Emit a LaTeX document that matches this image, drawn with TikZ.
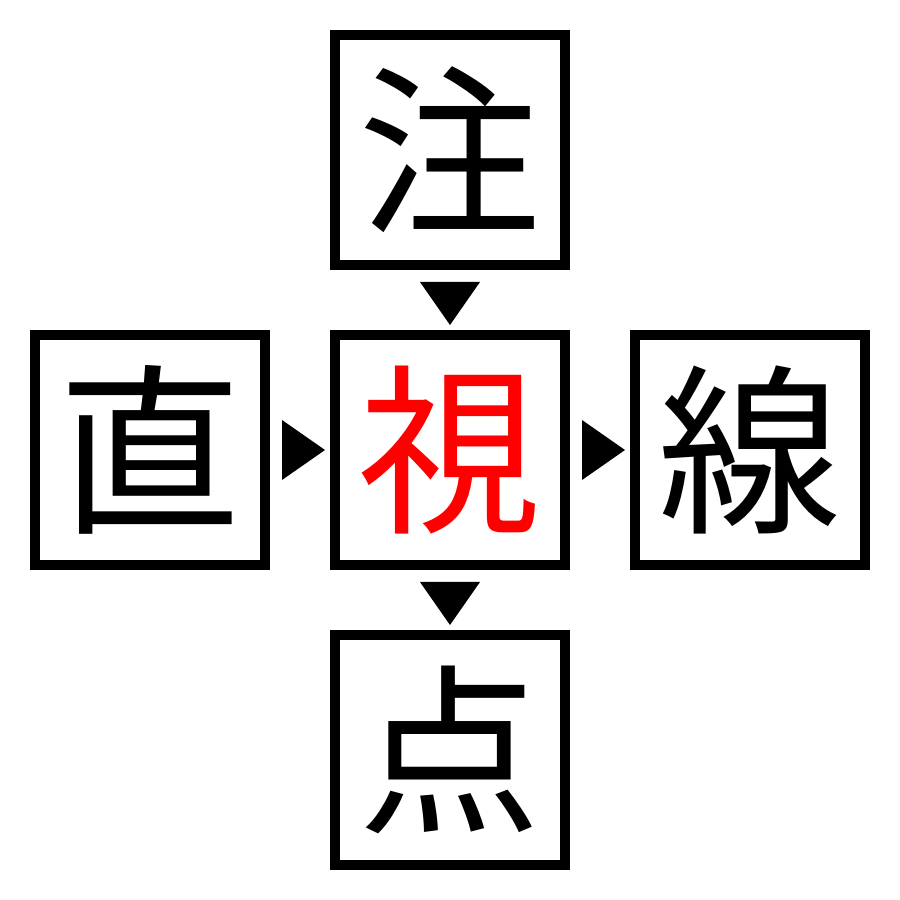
\documentclass[tikz,border=0pt]{standalone}
\usepackage{fontspec}
\newfontfamily\jp{Noto Sans CJK JP}
\usetikzlibrary{calc,positioning}
\tikzstyle{kanji}=[draw, line width=1mm, minimum size=2.3cm, inner sep=0pt, font=\jp\fontsize{52}{52}\selectfont]
\newcommand{\triA}{0.18}
\newcommand{\triB}{0.25}
\newcommand{\triW}{0.3}
\begin{document}
\begin{tikzpicture}
\useasboundingbox (0,0) rectangle (9,9);
\node[kanji] (shi) at (4.5,4.5) {\textcolor{red}{視}};
\node[kanji] (chu) at (4.5,7.5) {注};
\node[kanji] (choku) at (1.5,4.5) {直};
\node[kanji] (sen) at (7.5,4.5) {線};
\node[kanji] (ten) at (4.5,1.5) {点};
% markers between the boxes
\coordinate (mu) at ($(chu.south)!.5!(shi.north)$);
\coordinate (md) at ($(shi.south)!.5!(ten.north)$);
\coordinate (ml) at ($(choku.east)!.5!(shi.west)$);
\coordinate (mr) at ($(shi.east)!.5!(sen.west)$);
\foreach \m in {mu,md} {
	\fill ($(\m)+(-\triW,\triA)$) -- ($(\m)+(\triW,\triA)$) -- ($(\m)+(0,-\triB)$) -- cycle;
}
\foreach \m in {ml,mr} {
	\fill ($(\m)+(-\triA,\triW)$) -- ($(\m)+(-\triA,-\triW)$) -- ($(\m)+(\triB,0)$) -- cycle;
}
\end{tikzpicture}
\end{document}
